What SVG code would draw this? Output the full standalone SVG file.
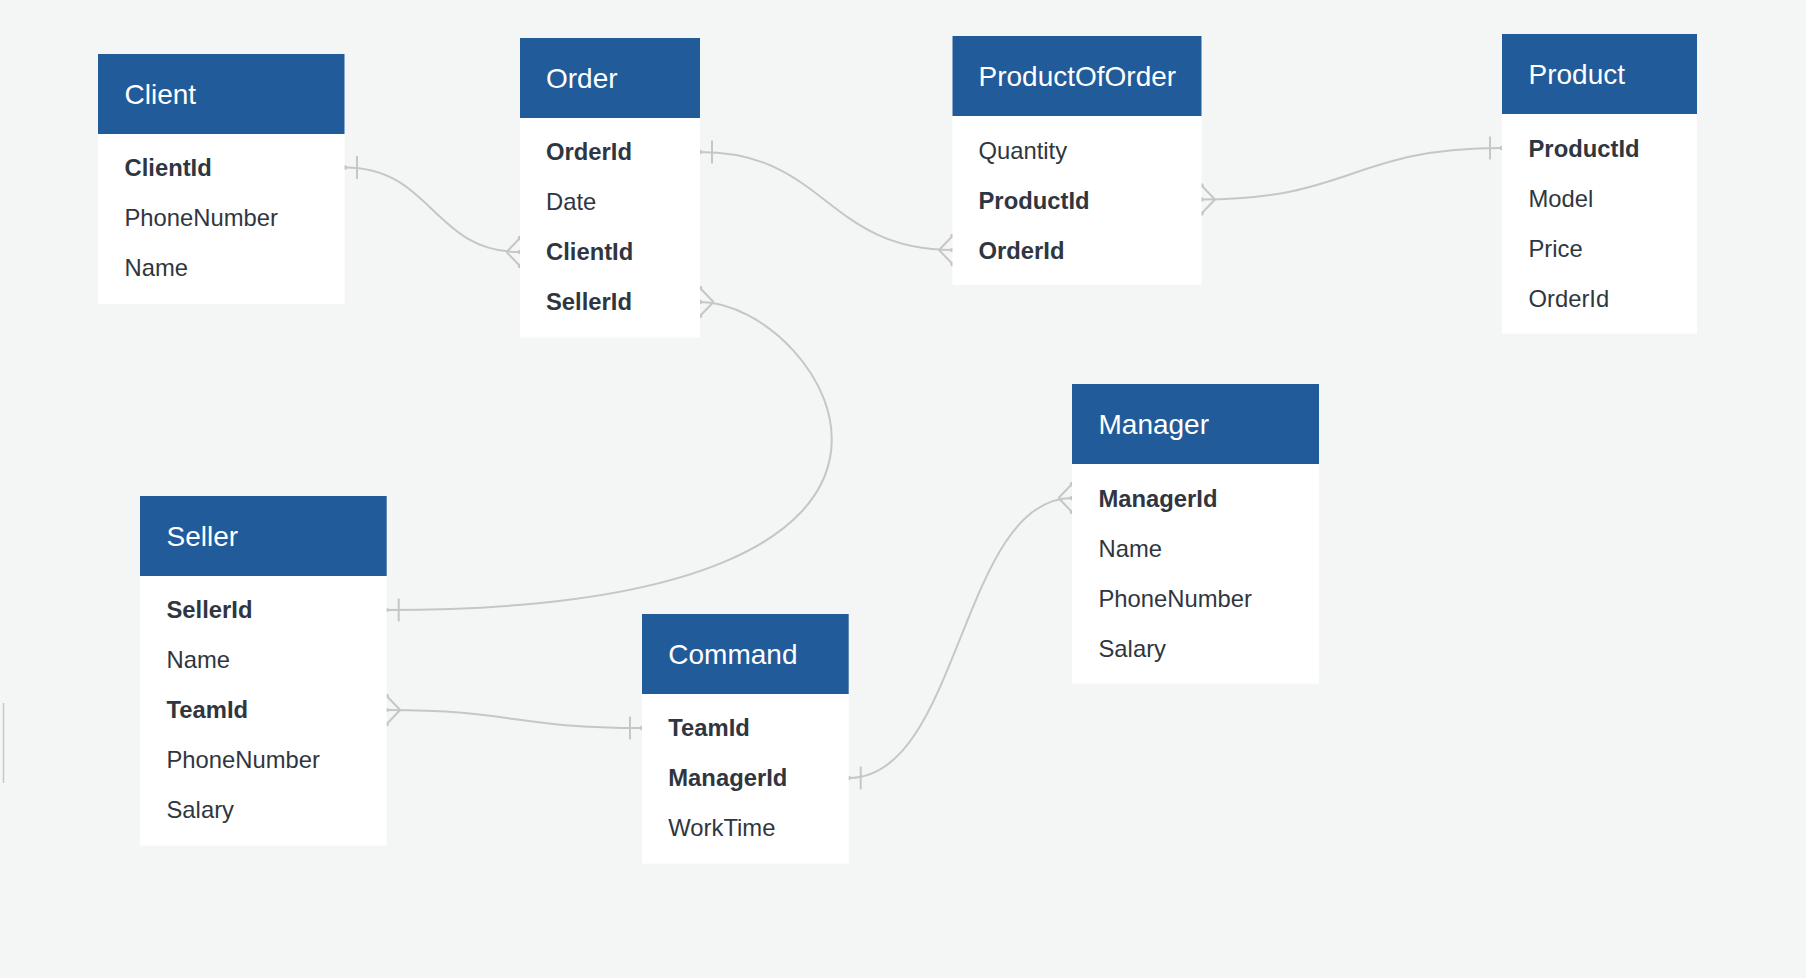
<svg xmlns="http://www.w3.org/2000/svg" width="1806" height="978" viewBox="0 0 1806 978">
  <style>
    .bg { fill: #f4f6f6; }
    .head { fill: #225b9a; }
    .body { fill: #ffffff; }
    .title { font-family: "Liberation Sans", Arial, sans-serif; font-size: 28px; fill: #ffffff; }
    .field { font-family: "Liberation Sans", Arial, sans-serif; font-size: 23.8px; fill: #2f3640; }
    .key { font-weight: 700; }
    .link { fill: none; stroke: #c6c6c6; stroke-width: 2; }
    .end { fill: #c6c6c6; }
  </style>

  <rect class="bg" x="0" y="0" width="1806" height="978"/>
  <line x1="3.5" y1="703" x2="3.5" y2="783" stroke="#c8c8c8" stroke-width="1.5"/>

  <!-- relationships -->
  <g id="connectors">
    <!-- Client.ClientId 1 : N Order.ClientId -->
    <g id="c-client-order">
      <path class="link" d="M345,167.5 C432.5,167.5 432.5,252 520,252"/>
      <line class="link" x1="357" y1="156" x2="357" y2="179"/>
      <path class="link" d="M506.5,252 L520,238 M506.5,252 L520,266"/>
      <circle class="end" cx="345" cy="167.5" r="2.3"/>
      <circle class="end" cx="520" cy="238" r="2.3"/>
      <circle class="end" cx="520" cy="252" r="2.3"/>
      <circle class="end" cx="520" cy="266" r="2.3"/>
    </g>
    <!-- Order.OrderId 1 : N ProductOfOrder.OrderId -->
    <g id="c-order-productoforder">
      <path class="link" d="M700,152 C826,152 826,250 952.5,250"/>
      <line class="link" x1="712" y1="140.5" x2="712" y2="163.5"/>
      <path class="link" d="M939,250 L952.5,236 M939,250 L952.5,264"/>
      <circle class="end" cx="700" cy="152" r="2.3"/>
      <circle class="end" cx="952.5" cy="236" r="2.3"/>
      <circle class="end" cx="952.5" cy="250" r="2.3"/>
      <circle class="end" cx="952.5" cy="264" r="2.3"/>
    </g>
    <!-- ProductOfOrder.ProductId N : 1 Product.ProductId -->
    <g id="c-productoforder-product">
      <path class="link" d="M1201.5,199.5 C1352,199.5 1352,148 1502,148"/>
      <path class="link" d="M1215,199.5 L1201.5,185.5 M1215,199.5 L1201.5,213.5"/>
      <line class="link" x1="1490" y1="136.5" x2="1490" y2="159.5"/>
      <circle class="end" cx="1201.5" cy="185.5" r="2.3"/>
      <circle class="end" cx="1201.5" cy="199.5" r="2.3"/>
      <circle class="end" cx="1201.5" cy="213.5" r="2.3"/>
      <circle class="end" cx="1502" cy="148" r="2.3"/>
    </g>
    <!-- Order.SellerId N : 1 Seller.SellerId -->
    <g id="c-order-seller">
      <path class="link" d="M700,302 C822,302 1030,610 386.7,610"/>
      <path class="link" d="M713.5,302 L700,288 M713.5,302 L700,316"/>
      <line class="link" x1="398.7" y1="598.5" x2="398.7" y2="621.5"/>
      <circle class="end" cx="700" cy="288" r="2.3"/>
      <circle class="end" cx="700" cy="302" r="2.3"/>
      <circle class="end" cx="700" cy="316" r="2.3"/>
      <circle class="end" cx="386.7" cy="610" r="2.3"/>
    </g>
    <!-- Seller.TeamId N : 1 Command.TeamId -->
    <g id="c-seller-command">
      <path class="link" d="M386.7,710 C514,710 514,728 642,728"/>
      <path class="link" d="M400.2,710 L386.7,696 M400.2,710 L386.7,724"/>
      <line class="link" x1="630" y1="716.5" x2="630" y2="739.5"/>
      <circle class="end" cx="386.7" cy="696" r="2.3"/>
      <circle class="end" cx="386.7" cy="710" r="2.3"/>
      <circle class="end" cx="386.7" cy="724" r="2.3"/>
      <circle class="end" cx="642" cy="728" r="2.3"/>
    </g>
    <!-- Command.ManagerId 1 : N Manager.ManagerId -->
    <g id="c-command-manager">
      <path class="link" d="M848.7,778 C960.4,778 960.4,498 1072,498"/>
      <line class="link" x1="860.7" y1="766.5" x2="860.7" y2="789.5"/>
      <path class="link" d="M1058.5,498 L1072,484 M1058.5,498 L1072,512"/>
      <circle class="end" cx="848.7" cy="778" r="2.3"/>
      <circle class="end" cx="1072" cy="484" r="2.3"/>
      <circle class="end" cx="1072" cy="498" r="2.3"/>
      <circle class="end" cx="1072" cy="512" r="2.3"/>
    </g>
  </g>

  <!-- tables -->
  <g id="client">
    <rect class="body" x="98" y="54" width="246.5" height="250"/>
    <rect class="head" x="98" y="54" width="246.5" height="80"/>
    <text class="title" x="124.5" y="104">Client</text>
    <text class="field key" x="124.5" y="176">ClientId</text>
    <text class="field" x="124.5" y="226">PhoneNumber</text>
    <text class="field" x="124.5" y="276">Name</text>
  </g>

  <g id="order">
    <rect class="body" x="520" y="38" width="180" height="299.5"/>
    <rect class="head" x="520" y="38" width="180" height="80"/>
    <text class="title" x="546" y="88">Order</text>
    <text class="field key" x="546" y="160.3">OrderId</text>
    <text class="field" x="546" y="210.3">Date</text>
    <text class="field key" x="546" y="260.3">ClientId</text>
    <text class="field key" x="546" y="310.3">SellerId</text>
  </g>

  <g id="productoforder">
    <rect class="body" x="952.5" y="36" width="249" height="249"/>
    <rect class="head" x="952.5" y="36" width="249" height="80"/>
    <text class="title" x="978.5" y="86">ProductOfOrder</text>
    <text class="field" x="978.5" y="158.7">Quantity</text>
    <text class="field key" x="978.5" y="208.7">ProductId</text>
    <text class="field key" x="978.5" y="258.7">OrderId</text>
  </g>

  <g id="product">
    <rect class="body" x="1502" y="34" width="195" height="299.7"/>
    <rect class="head" x="1502" y="34" width="195" height="80"/>
    <text class="title" x="1528.5" y="84">Product</text>
    <text class="field key" x="1528.5" y="157">ProductId</text>
    <text class="field" x="1528.5" y="207">Model</text>
    <text class="field" x="1528.5" y="257">Price</text>
    <text class="field" x="1528.5" y="307">OrderId</text>
  </g>

  <g id="manager">
    <rect class="body" x="1072" y="384" width="247" height="299.7"/>
    <rect class="head" x="1072" y="384" width="247" height="80"/>
    <text class="title" x="1098.5" y="434">Manager</text>
    <text class="field key" x="1098.5" y="507">ManagerId</text>
    <text class="field" x="1098.5" y="557">Name</text>
    <text class="field" x="1098.5" y="607">PhoneNumber</text>
    <text class="field" x="1098.5" y="657">Salary</text>
  </g>

  <g id="seller">
    <rect class="body" x="140" y="496" width="246.7" height="349.7"/>
    <rect class="head" x="140" y="496" width="246.7" height="80"/>
    <text class="title" x="166.5" y="545.7">Seller</text>
    <text class="field key" x="166.5" y="618.3">SellerId</text>
    <text class="field" x="166.5" y="668.3">Name</text>
    <text class="field key" x="166.5" y="718.3">TeamId</text>
    <text class="field" x="166.5" y="768.3">PhoneNumber</text>
    <text class="field" x="166.5" y="818.3">Salary</text>
  </g>

  <g id="command">
    <rect class="body" x="642" y="614" width="206.7" height="249.7"/>
    <rect class="head" x="642" y="614" width="206.7" height="80"/>
    <text class="title" x="668.3" y="664">Command</text>
    <text class="field key" x="668.3" y="736.3">TeamId</text>
    <text class="field key" x="668.3" y="786.3">ManagerId</text>
    <text class="field" x="668.3" y="836.3">WorkTime</text>
  </g>
</svg>
